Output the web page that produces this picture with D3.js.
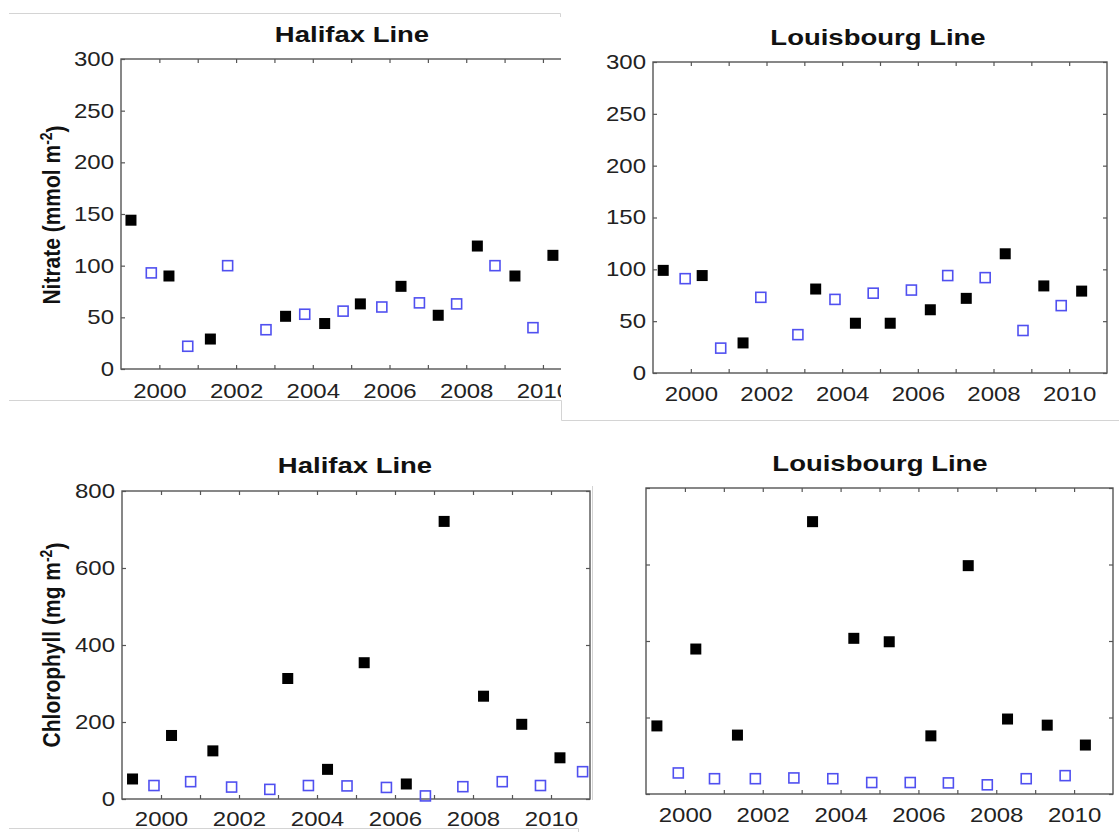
<!DOCTYPE html>
<html><head><meta charset="utf-8">
<script src="https://cdn.jsdelivr.net/npm/d3@7"></script>
<style>body{margin:0;background:#fff} svg{display:block}</style>
</head><body>
<svg id="c" width="1119" height="832"></svg>
<script>
// ---------- data ----------
const xTickYears = [2000,2001,2002,2003,2004,2005,2006,2007,2008,2009,2010];
const xLabelYears = [2000,2002,2004,2006,2008,2010];
const nitrateTicks = [0,50,100,150,200,250,300];
const chlTicks = [0,200,400,600,800];
const panelTitles = ["Halifax Line","Louisbourg Line","Halifax Line","Louisbourg Line"];

// Halifax nitrate
const hfxNitBlackYear = [1999.26,2000.25,2001.33,2003.29,2004.31,2005.24,2006.30,2007.27,2008.29,2009.27,2010.26];
const hfxNitBlackVal  = [144,90,29,51,44,63,80,52,119,90,110];
const hfxNitBlueYear  = [1999.79,2000.74,2001.78,2002.78,2003.79,2004.79,2005.80,2006.78,2007.75,2008.75,2009.74];
const hfxNitBlueVal   = [93,22,100,38,53,56,60,64,63,100,40];
// Louisbourg nitrate
const lbgNitBlackYear = [1999.27,2000.30,2001.38,2003.30,2004.35,2005.27,2006.33,2007.28,2008.31,2009.33,2010.33];
const lbgNitBlackVal  = [99,94,29,81,48,48,61,72,115,84,79];
const lbgNitBlueYear  = [1999.85,2000.79,2001.85,2002.83,2003.81,2004.82,2005.83,2006.79,2007.78,2008.78,2009.79];
const lbgNitBlueVal   = [91,24,73,37,71,77,80,94,92,41,65];
// Halifax chlorophyll
const hfxChlBlackYear = [1999.27,2000.27,2001.33,2003.25,2004.27,2005.21,2006.29,2007.26,2008.27,2009.25,2010.23];
const hfxChlBlackVal  = [52,165,125,313,77,354,39,721,267,194,107];
const hfxChlBlueYear  = [1999.82,2000.76,2001.81,2002.79,2003.78,2004.77,2005.78,2006.78,2007.74,2008.75,2009.73,2010.81];
const hfxChlBlueVal   = [35,45,31,25,35,34,30,8,32,45,35,71];
// Louisbourg chlorophyll
const lbgChlBlackYear = [1999.28,2000.28,2001.35,2003.28,2004.34,2005.25,2006.32,2007.28,2008.29,2009.31,2010.29];
const lbgChlBlackVal  = [178,379,154,712,407,398,152,597,196,180,128];
const lbgChlBlueYear  = [1999.83,2000.76,2001.81,2002.80,2003.80,2004.80,2005.79,2006.77,2007.77,2008.77,2009.77];
const lbgChlBlueVal   = [55,40,40,42,40,30,30,29,24,40,48];

// ---------- layout ----------
const svg = d3.select("#c");
const FONT = "'Liberation Sans', Arial, Helvetica, sans-serif";
const AX = "#555";
const TXT = "#222";
const SX = 1.2;

const panels = [
  {id:1, title:panelTitles[0], left:121, right:581.3, top:59, bottom:369, clip:561, ymax:300, yticks:nitrateTicks, ylabels:true,
   black:[hfxNitBlackYear,hfxNitBlackVal], blue:[hfxNitBlueYear,hfxNitBlueVal], tx:352, ty:42, xlab:29,
   ylab:{x:52,y:215,main:"Nitrate (mmol m",sup:"-2"}},
  {id:2, title:panelTitles[1], left:653, right:1107, top:62, bottom:373, ymax:300, yticks:nitrateTicks, ylabels:true,
   black:[lbgNitBlackYear,lbgNitBlackVal], blue:[lbgNitBlueYear,lbgNitBlueVal], tx:878, ty:45, xlab:28},
  {id:3, title:panelTitles[2], left:122, right:590, top:491, bottom:799, ymax:800, yticks:chlTicks, ylabels:true,
   black:[hfxChlBlackYear,hfxChlBlackVal], blue:[hfxChlBlueYear,hfxChlBlueVal], tx:355, ty:473, xlab:27,
   ylab:{x:52,y:645,main:"Chlorophyll (mg m",sup:"-2"}},
  {id:4, title:panelTitles[3], left:646, right:1113, top:488, bottom:794, ymax:800, yticks:chlTicks, ylabels:false,
   black:[lbgChlBlackYear,lbgChlBlackVal], blue:[lbgChlBlueYear,lbgChlBlueVal], tx:880, ty:471, xlab:28}
];

// separator lines (screenshot collage edges)
const sep = svg.append("g").attr("stroke","#d4d4d4").attr("stroke-width",1).attr("fill","none");
sep.append("path").attr("d","M9,13.5H560.5V17");
sep.append("path").attr("d","M9,400.5H561.5V420.5H1119");
sep.append("path").attr("d","M592.5,486V800");
sep.append("path").attr("d","M9,828.5H578.5V832");

function styleText(sel){ sel.style("font-family",FONT).attr("fill",TXT); }

panels.forEach(p=>{
  const x = d3.scaleLinear().domain([1999,2011]).range([p.left,p.right]);
  const y = d3.scaleLinear().domain([0,p.ymax]).range([p.bottom,p.top]);
  const g = svg.append("g");
  if(p.clip){
    svg.append("clipPath").attr("id","clip"+p.id).append("rect").attr("x",0).attr("y",0).attr("width",p.clip).attr("height",832);
    g.attr("clip-path",`url(#clip${p.id})`);
  }
  // title
  g.append("text").attr("transform",`translate(${p.tx},${p.ty}) scale(1.25,1)`)
    .attr("text-anchor","middle").style("font-size","22px").style("font-weight","bold")
    .call(styleText).attr("fill","#111").text(p.title);

  // box
  g.append("rect").attr("x",p.left).attr("y",p.top).attr("width",p.right-p.left).attr("height",p.bottom-p.top)
    .attr("fill","none").attr("stroke",AX).attr("stroke-width",1.4);

  const fmt = d=> xLabelYears.includes(d) ? String(d) : "";
  const gb = g.append("g").attr("transform",`translate(0,${p.bottom})`)
    .call(d3.axisBottom(x).tickValues(xTickYears).tickSize(-4).tickSizeOuter(0).tickFormat(fmt));
  gb.selectAll("text").attr("y",p.xlab).attr("dy",null).attr("transform",`scale(${SX},1)`)
    .style("font-size","20px").call(styleText);
  const gt = g.append("g").attr("transform",`translate(0,${p.top})`)
    .call(d3.axisTop(x).tickValues(xTickYears).tickSize(-4).tickSizeOuter(0).tickFormat(""));
  const gl = g.append("g").attr("transform",`translate(${p.left},0)`)
    .call(d3.axisLeft(y).tickValues(p.yticks).tickSize(-4).tickSizeOuter(0).tickFormat(p.ylabels? d3.format("d") : ""));
  gl.selectAll("text").attr("x",-7/SX).attr("transform",`scale(${SX},1)`).style("font-size","20px").call(styleText);
  const gr = g.append("g").attr("transform",`translate(${p.right},0)`)
    .call(d3.axisRight(y).tickValues(p.yticks).tickSize(-4).tickSizeOuter(0).tickFormat(""));
  [gb,gt,gl,gr].forEach(a=>{ a.select(".domain").remove(); a.selectAll("line").attr("stroke",AX).attr("stroke-width",1.2); });

  // y label
  if(p.ylab){
    const t = g.append("text").attr("transform",`translate(${p.ylab.x},${p.ylab.y}) scale(1.15,1) rotate(-90)`)
      .attr("text-anchor","middle").attr("dy","0.35em").style("font-size","21px").style("font-weight","bold")
      .call(styleText).attr("fill","#111");
    t.append("tspan").text(p.ylab.main);
    t.append("tspan").attr("dy","-0.5em").style("font-size","14px").text(p.ylab.sup);
    t.append("tspan").attr("dy","0.5em").text(")");
  }

  // markers
  const bk = p.black[0].map((yr,i)=>({yr, v:p.black[1][i]}));
  const bl = p.blue[0].map((yr,i)=>({yr, v:p.blue[1][i]}));
  const S=11, B=10;
  g.append("g").selectAll("rect").data(bl).join("rect")
    .attr("x",d=>x(d.yr)-B/2).attr("y",d=>y(d.v)-B/2).attr("width",B).attr("height",B)
    .attr("fill","none").attr("stroke","#5050f0").attr("stroke-width",1.6);
  g.append("g").selectAll("rect").data(bk).join("rect")
    .attr("x",d=>x(d.yr)-S/2).attr("y",d=>y(d.v)-S/2).attr("width",S).attr("height",S)
    .attr("fill","#000");
});
</script>
</body></html>
